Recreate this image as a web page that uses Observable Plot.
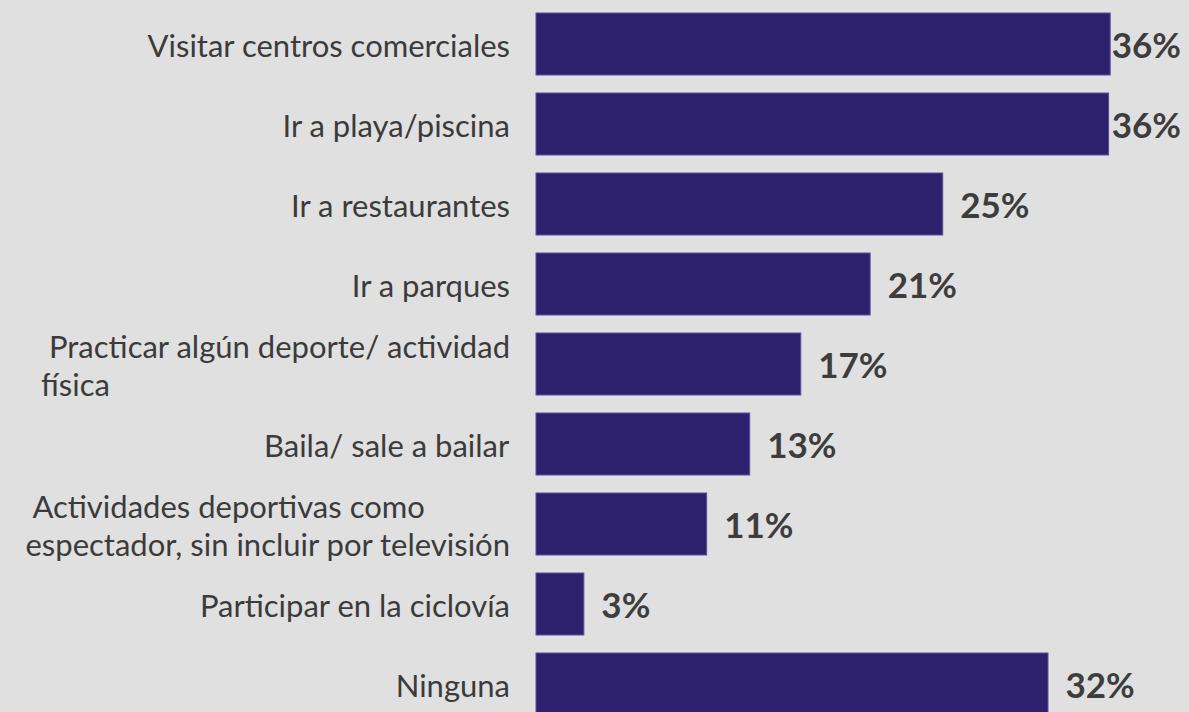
<!DOCTYPE html>
<html><head><meta charset="utf-8">
<script src="https://cdn.jsdelivr.net/npm/d3@7"></script>
<script src="https://cdn.jsdelivr.net/npm/@observablehq/plot@0.6"></script>
<style>html,body{margin:0;padding:0;background:#e0e0e0;overflow:hidden;width:1189px;height:712px}</style>
</head><body><div id="chart"></div>
<script>
const categories = [
  "Visitar centros comerciales",
  "Ir a playa/piscina",
  "Ir a restaurantes",
  "Ir a parques",
  "\u00A0Practicar algún deporte/ actividad\nfísica",
  "Baila/ sale a bailar",
  "\u00A0Actividades deportivas como\nespectador, sin incluir por televisión",
  "Participar en la ciclovía",
  "Ninguna"
];
const values = [36.0, 35.9, 25.5, 20.95, 16.6, 13.4, 10.7, 3.0, 32.1];
const valueLabels = ["36%", "36%", "25%", "21%", "17%", "13%", "11%", "3%", "32%"];

const data = categories.map((c, i) => ({category: c, value: values[i], label: valueLabels[i]}));

const chart = Plot.plot({
  width: 1189, height: 726,
  marginLeft: 536, marginRight: 15, marginTop: 1, marginBottom: 0,
  style: {background: "#e0e0e0", fontFamily: "Lato"},
  x: {domain: [0, 40], axis: null},
  y: {domain: categories, axis: null, paddingInner: 0.23, paddingOuter: 0.115},
  marks: [
    Plot.barX(data, {x: "value", y: "category", fill: "#2d216e", stroke: "#5b5199", strokeWidth: 1}),
    Plot.text(data, {y: "category", text: "category", frameAnchor: "left", textAnchor: "start",
      fontSize: 31, fill: "#3b3b3b", lineHeight: 1.22}),
    Plot.text(data, {x: "value", y: "category", text: "label", textAnchor: "start", dx: 17, dy: 2,
      fontSize: 35, fontWeight: "bold", fill: "#3d3d3d"})
  ]
});
document.getElementById("chart").append(chart);

// layout: category blocks right-aligned to the bar start, lines left-aligned within block;
// value labels kept inside the right edge
const svgRect = chart.getBoundingClientRect();
const groups = chart.querySelectorAll('g[aria-label="text"]');
const labelRight = svgRect.left + 536 - 26;
groups[0].querySelectorAll("text").forEach(t => {
  const b = t.getBoundingClientRect();
  const shift = labelRight - b.right;
  t.setAttribute("transform", `translate(${shift},0) ` + (t.getAttribute("transform") || ""));
});
const valueRight = svgRect.left + 1181;
groups[1].querySelectorAll("text").forEach(t => {
  const b = t.getBoundingClientRect();
  if (b.right > valueRight) {
    const shift = valueRight - b.right;
    t.setAttribute("transform", `translate(${shift},0) ` + (t.getAttribute("transform") || ""));
  }
});
</script>
</body></html>
